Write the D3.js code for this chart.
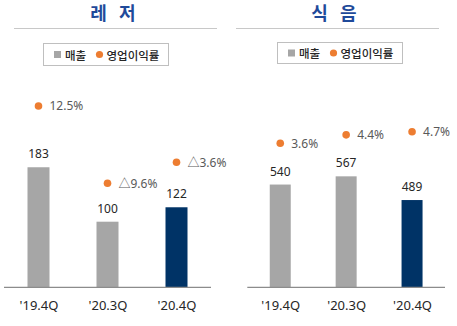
<!DOCTYPE html>
<html><head><meta charset="utf-8">
<script src="https://cdn.jsdelivr.net/npm/d3@7"></script>
<style>
html,body{margin:0;padding:0;background:#fff;}
svg{display:block;font-family:"Noto Sans","Noto Sans CJK KR",sans-serif;}
</style></head>
<body><svg id="c" width="457" height="326"></svg>
<script>
const categories = ["'19.4Q", "'20.3Q", "'20.4Q"];
const legendLabels = ["매출", "영업이익률"];
const panelTitles = ["레 저", "식 음"];
const leisureSales = [183, 100, 122];
const leisureMargin = [12.5, -9.6, -3.6];
const leisureMarginLabels = ["12.5%", "△9.6%", "△3.6%"];
const foodSales = [540, 567, 489];
const foodMargin = [3.6, 4.4, 4.7];
const foodMarginLabels = ["3.6%", "4.4%", "4.7%"];

const svg = d3.select("#c");
const GRAY = "#a6a6a6", NAVY = "#003366", ORANGE = "#ed7d31";

const panels = [
  {title: panelTitles[0], titleX: 113, sep: [14, 217], legend: [43.5, 43.5, 125, 22],
   axis: [4, 211], sales: leisureSales, margin: leisureMargin, mLabels: leisureMarginLabels,
   yDomain: [0, 200], yRange: [287.3, 156.1], rDomain: [-10, 13], rRange: [184.7, 104.2], barW: 22},
  {title: panelTitles[1], titleX: 334, sep: [236, 439], legend: [277.5, 42.5, 125, 21],
   axis: [247.3, 445], sales: foodSales, margin: foodMargin, mLabels: foodMarginLabels,
   yDomain: [202, 600], yRange: [287.3, 166.3], rDomain: [0, 5], rRange: [181.2, 128.55], barW: 21}
];

panels.forEach(p => {
  const g = svg.append("g");
  // title
  g.append("text").attr("x", p.titleX).attr("y", 20).attr("text-anchor", "middle")
    .attr("font-family", "'Noto Sans CJK KR'").attr("font-weight", "bold")
    .attr("font-size", 18).attr("fill", "#1f4a9a").style("white-space", "pre")
    .text(p.title.replace(" ", "   "));
  g.append("line").attr("x1", p.sep[0]).attr("x2", p.sep[1]).attr("y1", 28.5).attr("y2", 28.5)
    .attr("stroke", "#c8c8c8").attr("stroke-width", 1);
  // legend
  const [lx, ly, lw, lh] = p.legend;
  g.append("rect").attr("x", lx).attr("y", ly).attr("width", lw).attr("height", lh)
    .attr("fill", "#fff").attr("stroke", "#bfbfbf").attr("stroke-width", 1);
  const cy = ly + lh / 2;
  g.append("rect").attr("x", lx + 10.5).attr("y", cy - 3.5).attr("width", 7).attr("height", 7).attr("fill", GRAY);
  g.append("text").attr("x", lx + 21.5).attr("y", cy).attr("dominant-baseline", "central")
    .attr("font-family", "'Noto Sans CJK KR'").attr("font-weight", 500).attr("font-size", 11.5).attr("fill", "#262626").text(legendLabels[0]);
  g.append("circle").attr("cx", lx + 56).attr("cy", cy).attr("r", 3.6).attr("fill", ORANGE);
  g.append("text").attr("x", lx + 63).attr("y", cy).attr("dominant-baseline", "central")
    .attr("font-family", "'Noto Sans CJK KR'").attr("font-weight", 500).attr("font-size", 11.5).attr("fill", "#262626").text(legendLabels[1]);

  const x = d3.scalePoint().domain(categories).range(p.axis).padding(0.5);
  const y = d3.scaleLinear().domain(p.yDomain).range(p.yRange);
  const r = d3.scaleLinear().domain(p.rDomain).range(p.rRange);

  g.selectAll(".bar").data(p.sales).join("rect")
    .attr("x", (d, i) => x(categories[i]) - p.barW / 2)
    .attr("y", d => y(d))
    .attr("width", p.barW)
    .attr("height", d => y(p.yDomain[0]) - y(d))
    .attr("fill", (d, i) => i === 2 ? NAVY : GRAY);

  g.selectAll(".vl").data(p.sales).join("text")
    .attr("x", (d, i) => x(categories[i]))
    .attr("y", d => y(d) - 13.5)
    .attr("text-anchor", "middle").attr("dominant-baseline", "central")
    .attr("font-size", 12).attr("fill", "#262626").text(d => d);

  // baseline axis
  const axis = d3.axisBottom(x).tickSize(0).tickPadding(13);
  const ax = g.append("g").attr("transform", `translate(0,${p.yRange[0]})`).call(axis);
  ax.select(".domain").attr("d", `M${p.axis[0]},0H${p.axis[1]}`).attr("stroke", "#8c8c8c").attr("stroke-width", 1.3);
  ax.selectAll("text").attr("font-size", 13).attr("fill", "#262626").attr("font-family", "'Noto Sans', sans-serif");

  g.selectAll(".dot").data(p.margin).join("circle")
    .attr("cx", (d, i) => x(categories[i]))
    .attr("cy", d => r(d))
    .attr("r", 3.8).attr("fill", ORANGE);
  g.selectAll(".ml").data(p.margin).join("text")
    .attr("x", (d, i) => x(categories[i]) + 11)
    .attr("y", d => r(d))
    .attr("dominant-baseline", "central")
    .attr("font-size", 12).attr("fill", "#595959").text((d, i) => p.mLabels[i]);
});
</script></body></html>
